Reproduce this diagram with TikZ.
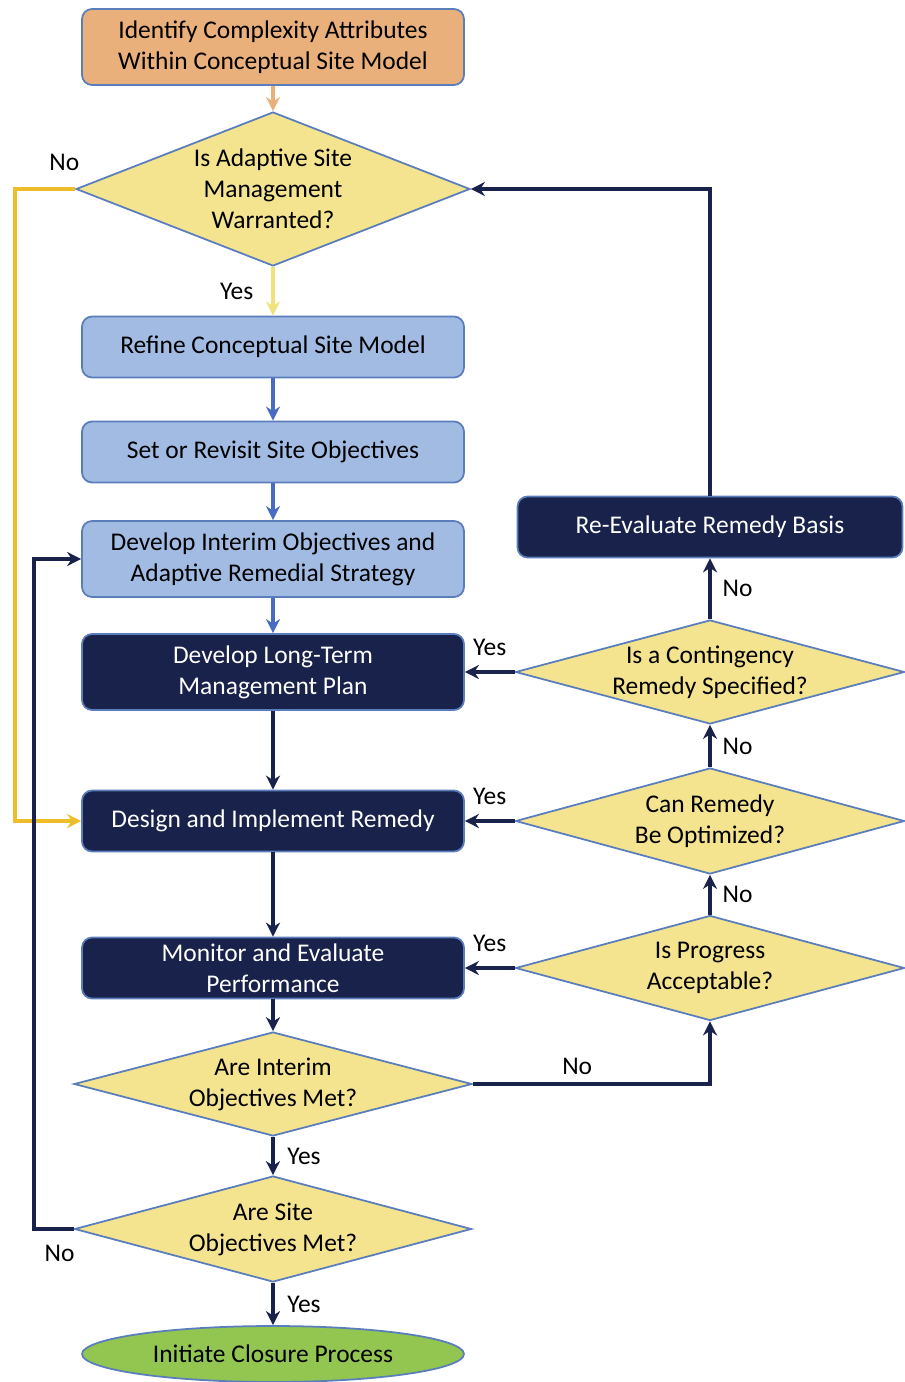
\documentclass[tikz,border=0pt]{standalone}
\usepackage{fontspec}
\setmainfont{Carlito}
\usetikzlibrary{shapes.geometric, arrows.meta, positioning}

\definecolor{boxorange}{HTML}{E9B07C}
\definecolor{boxblue}{HTML}{A2BBE3}
\definecolor{navy}{HTML}{18224A}
\definecolor{diamyellow}{HTML}{F4E48F}
\definecolor{closegreen}{HTML}{92C650}
\definecolor{edgeblue}{HTML}{5A7DBC}
\definecolor{nogold}{HTML}{EDBE2A}
\definecolor{yesyellow}{HTML}{F0E27A}
\definecolor{arrowblue}{HTML}{4A6BC4}

\begin{document}
\begin{tikzpicture}[
				x=0.02cm, y=-0.02cm,
				>={Stealth[length=8pt, width=8pt]},
				font=\fontsize{14.5}{17.6}\selectfont,
				box/.style={draw=edgeblue, line width=1pt, rounded corners=0.2cm, minimum width=7.64cm, minimum height=1.22cm, align=center, inner sep=2pt},
				lightbox/.style={box, fill=boxblue},
				darkbox/.style={box, fill=navy, text=white},
				decision/.style={diamond, draw=edgeblue, line width=1pt, fill=diamyellow, align=center, shape aspect=3.75, inner xsep=-14pt, inner ysep=0pt},
				arrow/.style={->, line width=2.4pt},
				lbl/.style={inner sep=0pt}
				]
				\useasboundingbox (0,0) rectangle (904,1382);
				
				% Main column
				\node[box, fill=boxorange, minimum height=1.52cm] (ident) at (273,47) {Identify Complexity Attributes\\Within Conceptual Site Model};
				\node[decision, shape aspect=2.56, minimum width=7.88cm, minimum height=3.08cm] (warrant) at (273,189) {Is Adaptive Site\\Management\\Warranted?};
				\node[lightbox] (refine) at (273,347) {Refine Conceptual Site Model};
				\node[lightbox] (setobj) at (273,452) {Set or Revisit Site Objectives};
				\node[lightbox, minimum height=1.52cm] (interim) at (273,559) {Develop Interim Objectives and\\Adaptive Remedial Strategy};
				\node[darkbox, minimum height=1.52cm] (ltplan) at (273,672) {Develop Long-Term\\Management Plan};
				\node[darkbox] (design) at (273,821) {Design and Implement Remedy};
				\node[darkbox] (monitor) at (273,968) {Monitor and Evaluate\\Performance};
				\node[decision, minimum width=7.96cm, minimum height=2.08cm] (intmet) at (273,1084) {Are Interim\\Objectives Met?};
				\node[decision, minimum width=7.94cm, minimum height=2.12cm] (sitemet) at (273,1229) {Are Site\\Objectives Met?};
				\node[ellipse, draw=edgeblue, line width=1pt, fill=closegreen, minimum width=7.64cm, minimum height=1.12cm] (closure) at (273,1354) {Initiate Closure Process};
				
				% Right column
				\node[darkbox, minimum width=7.7cm] (reeval) at (710,527) {Re-Evaluate Remedy Basis};
				\node[decision, minimum width=7.78cm, minimum height=2.08cm] (conting) at (710,672) {Is a Contingency\\Remedy Specified?};
				\node[decision, minimum width=7.78cm, minimum height=2.12cm] (optim) at (710,821) {Can Remedy\\Be Optimized?};
				\node[decision, minimum width=7.78cm, minimum height=2.1cm] (progress) at (710,968) {Is Progress\\Acceptable?};
				
				% Down the main column
				\draw[arrow, boxorange] (ident) -- (warrant);
				\draw[arrow, yesyellow] (warrant) -- node[lbl, left=10pt, text=black] {Yes} (refine);
				\draw[arrow, arrowblue] (refine) -- (setobj);
				\draw[arrow, arrowblue] (setobj) -- (interim);
				\draw[arrow, arrowblue] (interim) -- (ltplan);
				\draw[arrow, navy] (ltplan) -- (design);
				\draw[arrow, navy] (design) -- (monitor);
				\draw[arrow, navy] (monitor) -- (intmet);
				\draw[arrow, navy] (intmet) -- node[lbl, right=7pt, text=black] {Yes} (sitemet);
				\draw[arrow, navy] (sitemet) -- node[lbl, right=7pt, text=black] {Yes} (closure);
				
				% No branches on the left
				\draw[arrow, nogold] (warrant.west) -- node[lbl, pos=0.18, above=9pt, text=black] {No} ++(-60,0) |- (design.west);
				\draw[arrow, navy] (sitemet.west) -- node[lbl, pos=0.35, below=8pt, text=black] {No} ++(-40,0) |- (interim.west);
				
				% Evaluation loop
				\draw[arrow, navy] (intmet.east) -| node[lbl, pos=0.22, above=4pt, text=black] {No} (progress.south);
				\draw[arrow, navy] (progress) -- node[lbl, right=6pt, text=black] {No} (optim);
				\draw[arrow, navy] (optim) -- node[lbl, right=6pt, text=black] {No} (conting);
				\draw[arrow, navy] (conting) -- node[lbl, right=6pt, text=black] {No} (reeval);
				\draw[arrow, navy] (reeval.north) |- (warrant.east);
				
				% Yes back to the plan
				\draw[arrow, navy] (conting) -- node[lbl, above=8pt, text=black] {Yes} (ltplan);
				\draw[arrow, navy] (optim) -- node[lbl, above=8pt, text=black] {Yes} (design);
				\draw[arrow, navy] (progress) -- node[lbl, above=8pt, text=black] {Yes} (monitor);
				
			\end{tikzpicture}
\end{document}
